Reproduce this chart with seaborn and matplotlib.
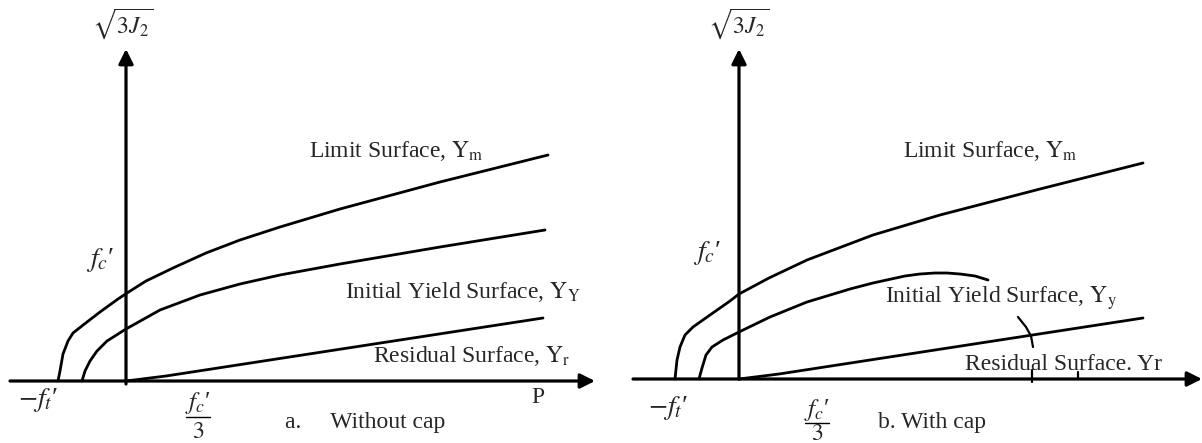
import numpy as np
import pandas as pd
import seaborn as sns
import matplotlib
matplotlib.use('Agg')  # pas d'affichage
import matplotlib.pyplot as plt

# --- Courbes (unites ~ pixels, origine = croisement des axes) ---
# a. sans cap
a_limit_p = [-68, -66, -63, -58, -53, -39, -26, -8, 1, 20, 47, 80, 114, 154, 214, 314, 422]
a_limit_q = [0, 10, 27, 40, 48, 59, 69, 82, 88, 100, 113, 128, 141, 154, 172, 199, 226]
a_yield_p = [-44, -41, -36, -29, -19, 0, 34, 74, 114, 154, 214, 314, 419]
a_yield_q = [0, 10, 20, 30, 40, 52, 71, 86, 97, 106, 117, 134, 151]
a_resid_p = [0, 40, 417]
a_resid_q = [0, 5, 63]

# b. avec cap
b_limit_p = [-64, -62, -59, -54, -46, -29, -9, 0, 30, 68, 134, 201, 301, 404]
b_limit_q = [0, 19, 32, 44, 52, 64, 78, 85, 101, 119, 144, 164, 190, 216]
b_yield_p = [-40, -37, -33, -27, -16, 0, 31, 68, 111, 134, 166, 181, 196, 208, 221, 236, 249]
b_yield_q = [0, 11, 24, 32, 39, 47, 62, 77, 90, 96, 103, 105, 106, 106, 105, 103, 99]
b_resid_p = [0, 40, 404]
b_resid_q = [0, 5, 61]
b_cap_p = [279, 287, 292, 294]
b_cap_q = [62, 52, 43, 32]
b_tick1_p = [293, 293]
b_tick1_q = [9, -3]
b_tick2_p = [339, 339]
b_tick2_q = [7, 1]

# axes (debut, fin) des fleches
a_haxis = [-116, 469]
a_vaxis = [-3, 332]
b_haxis = [-106, 463]
b_vaxis = [0, 330]


def make_df(curves):
    rows = []
    for name, (p, q) in curves.items():
        for x, y in zip(p, q):
            rows.append({'curve': name, 'p': x, 'q': y})
    return pd.DataFrame(rows)


df_a = make_df({'limit': (a_limit_p, a_limit_q),
                'yield': (a_yield_p, a_yield_q),
                'resid': (a_resid_p, a_resid_q)})
df_b = make_df({'limit': (b_limit_p, b_limit_q),
                'yield': (b_yield_p, b_yield_q),
                'resid': (b_resid_p, b_resid_q)})
df_b_marks = make_df({'cap': (b_cap_p, b_cap_q),
                      't1': (b_tick1_p, b_tick1_q),
                      't2': (b_tick2_p, b_tick2_q)})

sns.set_style('white')
plt.rcParams['font.family'] = ['Liberation Serif', 'DejaVu Serif']
plt.rcParams['mathtext.fontset'] = 'stix'

W, H = 1202, 443
fig = plt.figure(figsize=(W / 100, H / 100), dpi=100)

# panneau a : origine a (126, 381) px ; panneau b : origine a (739, 379) px
ax_a = fig.add_axes([0, 0, 601 / W, 1])
ax_a.set_xlim(-126, 601 - 126)
ax_a.set_ylim(381 - H, 381)
ax_b = fig.add_axes([601 / W, 0, 601 / W, 1])
ax_b.set_xlim(601 - 739, W - 739)
ax_b.set_ylim(379 - H, 379)

for ax, df in [(ax_a, df_a), (ax_b, df_b)]:
    sns.lineplot(data=df, x='p', y='q', units='curve', estimator=None,
                 sort=False, color='black', lw=2.0, ax=ax, legend=False,
                 solid_joinstyle='round')
sns.lineplot(data=df_b_marks, x='p', y='q', units='curve', estimator=None,
             sort=False, color='black', lw=1.6, ax=ax_b, legend=False)

arrow = dict(arrowstyle='-|>', lw=2.3, color='black', mutation_scale=22,
             shrinkA=0, shrinkB=0)
for ax, hx, vy in [(ax_a, a_haxis, a_vaxis), (ax_b, b_haxis, b_vaxis)]:
    ax.annotate('', xy=(hx[1], 0), xytext=(hx[0], 0), arrowprops=arrow,
                annotation_clip=False)
    ax.annotate('', xy=(0, vy[1]), xytext=(0, vy[0]), arrowprops=arrow,
                annotation_clip=False)
    ax.set_axis_off()

fs = 17
fm = 20
fc = r"$f_c$′"
ft = r"$-f_t$′"


def fraction(ax, x, y_num, y_bar, y_den, half):
    # f_c'/3 : numerateur, barre, denominateur
    ax.text(x, y_num, fc, fontsize=fm - 2, ha='center', va='center')
    ax.plot([x - half, x + half], [y_bar, y_bar], color='black', lw=1.0)
    ax.text(x, y_den, '3', fontsize=fm - 3, ha='center', va='center',
            family='STIXGeneral')


# textes panneau a
ax_a.text(183, 224, r'Limit Surface, $\mathrm{Y_m}$', fontsize=fs, va='baseline')
ax_a.text(219, 83, r'Initial Yield Surface, $\mathrm{Y_Y}$', fontsize=fs, va='baseline')
ax_a.text(247, 19, r'Residual Surface, $\mathrm{Y_r}$', fontsize=fs, va='baseline')
ax_a.text(412, -22, 'P', fontsize=fs, va='baseline', ha='center')
ax_a.text(159, -47, 'a.     Without cap', fontsize=fs, va='baseline')
ax_a.text(-88, -19, ft, fontsize=fm, ha='center', va='center')
fraction(ax_a, 72, -22, -36, -51, 12)
ax_a.text(-26, 121, fc, fontsize=fm, ha='center', va='center')
ax_a.text(-3, 357, r'$\sqrt{3J_2}$', fontsize=fm - 3, ha='center', va='center')

# textes panneau b
ax_b.text(164, 222, r'Limit Surface, $\mathrm{Y_m}$', fontsize=fs, va='baseline')
ax_b.text(146, 76, r'Initial Yield Surface, $\mathrm{Y_y}$', fontsize=fs, va='baseline')
ax_b.text(226, 9, 'Residual Surface. Yr', fontsize=fs, va='baseline')
ax_b.text(139, -49, 'b. With cap', fontsize=fs, va='baseline')
ax_b.text(-71, -29, ft, fontsize=fm, ha='center', va='center')
fraction(ax_b, 78, -31, -44, -55, 12)
ax_b.text(-32, 126, fc, fontsize=fm, ha='center', va='center')
ax_b.text(0, 355, r'$\sqrt{3J_2}$', fontsize=fm - 3, ha='center', va='center')

fig.savefig('out.png', dpi=100, facecolor='white')
plt.close(fig)
